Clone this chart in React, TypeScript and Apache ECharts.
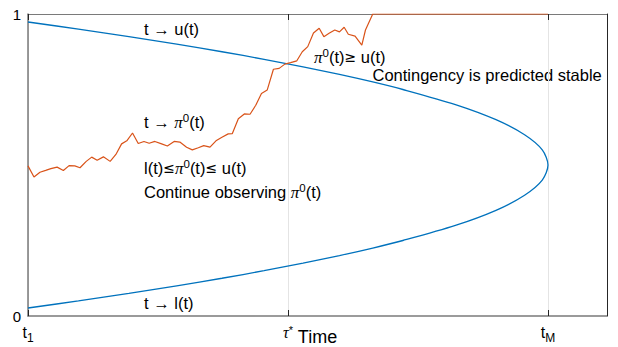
import React, { useEffect, useRef } from "react";
import * as echarts from "echarts";

// Time axis: t1 = 0, tM = 1 (tau* half-way)
const xTickValues = [0, 0.5, 1];
const xTickLabels = ["{t|t}{s|1}", "{g|τ}{p|*}", "{t|t}{s|M}"];
const yTickValues = [0, 1];
const yTickLabels = ["0", "1"];

// upper bound t -> u(t)  [t, value]
const upperBound: [number, number][] = [
  [0.0, 0.9735], [0.097, 0.95], [0.194, 0.925], [0.286, 0.9], [0.373, 0.875],
  [0.454, 0.85], [0.529, 0.825], [0.599, 0.8], [0.663, 0.775], [0.721, 0.75],
  [0.822, 0.7], [0.9, 0.65], [0.955, 0.6], [0.989, 0.55], [1.0, 0.5],
];
// lower bound t -> l(t)  [t, value]
const lowerBound: [number, number][] = [
  [0.0, 0.0265], [0.097, 0.05], [0.194, 0.075], [0.286, 0.1], [0.373, 0.125],
  [0.454, 0.15], [0.529, 0.175], [0.599, 0.2], [0.663, 0.225], [0.721, 0.25],
  [0.822, 0.3], [0.9, 0.35], [0.955, 0.4], [0.989, 0.45], [1.0, 0.5],
];
// observed t -> pi0(t)  [t, value]
const piObserved: [number, number][] = [
  [0.0, 0.497], [0.0115, 0.46], [0.023, 0.476], [0.034, 0.482], [0.044, 0.488],
  [0.056, 0.493], [0.068, 0.482], [0.079, 0.498], [0.09, 0.497], [0.1, 0.491],
  [0.112, 0.512], [0.1225, 0.526], [0.133, 0.516], [0.145, 0.527], [0.158, 0.512],
  [0.169, 0.535], [0.18, 0.57], [0.19, 0.58], [0.201, 0.606], [0.212, 0.571],
  [0.223, 0.578], [0.233, 0.572], [0.244, 0.578], [0.257, 0.57], [0.268, 0.563],
  [0.281, 0.578], [0.292, 0.576], [0.305, 0.559], [0.316, 0.55], [0.3275, 0.557],
  [0.338, 0.564], [0.35, 0.559], [0.3615, 0.58], [0.373, 0.592], [0.385, 0.603],
  [0.393, 0.604], [0.4045, 0.653], [0.416, 0.669], [0.427, 0.668], [0.438, 0.698],
  [0.449, 0.737], [0.46, 0.748], [0.472, 0.817], [0.483, 0.82], [0.494, 0.834],
  [0.505, 0.839], [0.517, 0.845], [0.5275, 0.875], [0.538, 0.892], [0.549, 0.937],
  [0.56, 0.953], [0.569, 0.925], [0.579, 0.936], [0.59, 0.947], [0.599, 0.941],
  [0.608, 0.956], [0.616, 0.933], [0.629, 0.927], [0.642, 0.897], [0.649, 0.947],
  [0.663, 1.0], [1.0, 1.0],
];

const X_MAX = 1.1135;
const textFont = "Liberation Sans, Arial, Helvetica, sans-serif";
const mathFont = "Liberation Serif, DejaVu Serif, serif";
const symFont = "DejaVu Sans, sans-serif";
const BLUE = "#0072BD";
const ORANGE = "#D95319";

const rich = {
  n: { fontSize: 16.5, fontFamily: textFont, lineHeight: 20, fill: "#000", color: "#000" },
  rel: { fontSize: 14, fontFamily: symFont, lineHeight: 20, fill: "#000", color: "#000" },
  pi: { fontSize: 17, fontFamily: mathFont, fontStyle: "italic", lineHeight: 20, fill: "#000", color: "#000" },
  sup: { fontSize: 11.5, fontFamily: textFont, lineHeight: 13, verticalAlign: "top", fill: "#000", color: "#000" },
};

function note(text: string, x: number, y: number) {
  return {
    type: "text",
    x,
    y,
    silent: true,
    style: {
      text,
      rich,
      align: "left",
      verticalAlign: "middle",
      fontFamily: textFont,
      fontSize: 16.5,
      fill: "#000",
    },
  };
}

export default function App() {
  const ref = useRef<HTMLDivElement>(null);
  useEffect(() => {
    if (!ref.current) return;
    const chart = echarts.init(ref.current, undefined, { renderer: "svg" });
    const boundCurve = upperBound.concat(lowerBound.slice(0, -1).reverse());
    const labelFor = (v: number, vals: number[], labels: string[]) => {
      const i = vals.findIndex((t) => Math.abs(t - v) < 1e-6);
      return i >= 0 ? labels[i] : "";
    };
    chart.setOption({
      animation: false,
      backgroundColor: "#fff",
      grid: { left: 28, right: 11, top: 14, bottom: 31, containLabel: false, outerBoundsMode: "none" },
      xAxis: [
        {
          type: "value",
          position: "bottom",
          min: 0,
          max: X_MAX,
          interval: 0.5,
          name: "Time",
          nameLocation: "middle",
          nameGap: 12,
          nameMoveOverlap: false,
          nameTextStyle: { fontFamily: textFont, fontSize: 18, color: "#000", lineHeight: 18 },
          axisLine: { show: true, onZero: false, lineStyle: { color: "#7a7a7a", width: 1.5 } },
          axisTick: { show: true, inside: true, length: 6, lineStyle: { color: "#262626", width: 1 } },
          splitLine: { show: true, lineStyle: { color: "#e4e4e4", width: 1 } },
          axisLabel: {
            margin: 8,
            formatter: (v: number) => labelFor(v, xTickValues, xTickLabels),
            rich: {
              t: { fontSize: 16, fontFamily: textFont, lineHeight: 16, verticalAlign: "top", color: "#000" },
              s: { fontSize: 12, fontFamily: textFont, lineHeight: 20, verticalAlign: "bottom", color: "#000" },
              g: { fontSize: 16, fontFamily: mathFont, fontStyle: "italic", lineHeight: 16, verticalAlign: "top", color: "#000" },
              p: { fontSize: 11, fontFamily: textFont, lineHeight: 8, verticalAlign: "top", color: "#000" },
            },
          },
        },
        {
          type: "value",
          position: "top",
          min: 0,
          max: X_MAX,
          interval: 0.5,
          axisLine: { show: true, onZero: false, lineStyle: { color: "#7a7a7a", width: 1.2 } },
          axisTick: { show: true, inside: true, length: 6, lineStyle: { color: "#262626", width: 1 } },
          splitLine: { show: false },
          axisLabel: { show: false },
        },
      ],
      yAxis: [
        {
          type: "value",
          position: "left",
          min: 0,
          max: 1,
          interval: 1,
          axisLine: { show: true, onZero: false, lineStyle: { color: "#7a7a7a", width: 1.5 } },
          axisTick: { show: false },
          splitLine: { show: false },
          axisLabel: {
            margin: 7,
            fontFamily: textFont,
            fontSize: 15,
            color: "#000",
            formatter: (v: number) => labelFor(v, yTickValues, yTickLabels),
          },
        },
        {
          type: "value",
          position: "right",
          min: 0,
          max: 1,
          interval: 1,
          axisLine: { show: true, onZero: false, lineStyle: { color: "#262626", width: 1 } },
          axisTick: { show: false },
          splitLine: { show: false },
          axisLabel: { show: false },
        },
      ],
      series: [
        {
          type: "line",
          name: "bounds",
          data: boundCurve,
          smooth: 0.3,
          showSymbol: false,
          symbol: "none",
          lineStyle: { color: BLUE, width: 1.3 },
          itemStyle: { color: BLUE },
          z: 3,
        },
        {
          type: "line",
          name: "pi0",
          data: piObserved,
          showSymbol: false,
          symbol: "none",
          lineStyle: { color: ORANGE, width: 1.2 },
          itemStyle: { color: ORANGE },
          z: 4,
        },
      ],
      graphic: [
        note("{n|t → u(t)}", 144, 29),
        note("{n|t → }{pi|π}{sup|0}{n|(t)}", 144, 122),
        note("{n|l(t)}{rel|≤}{pi|π}{sup|0}{n|(t)}{rel|≤}{n| u(t)}", 144, 168),
        note("{n|Continue observing }{pi|π}{sup|0}{n|(t)}", 144, 192),
        note("{pi|π}{sup|0}{n|(t)}{rel|≥}{n| u(t)}", 314, 57),
        note("{n|Contingency is predicted stable}", 372.5, 74.5),
        note("{n|t → l(t)}", 144, 303),
      ],
    });
    return () => chart.dispose();
  }, []);
  return (
    <div
      ref={ref}
      style={{ position: "fixed", left: 0, top: 0, width: 618, height: 347, background: "#fff" }}
    />
  );
}
